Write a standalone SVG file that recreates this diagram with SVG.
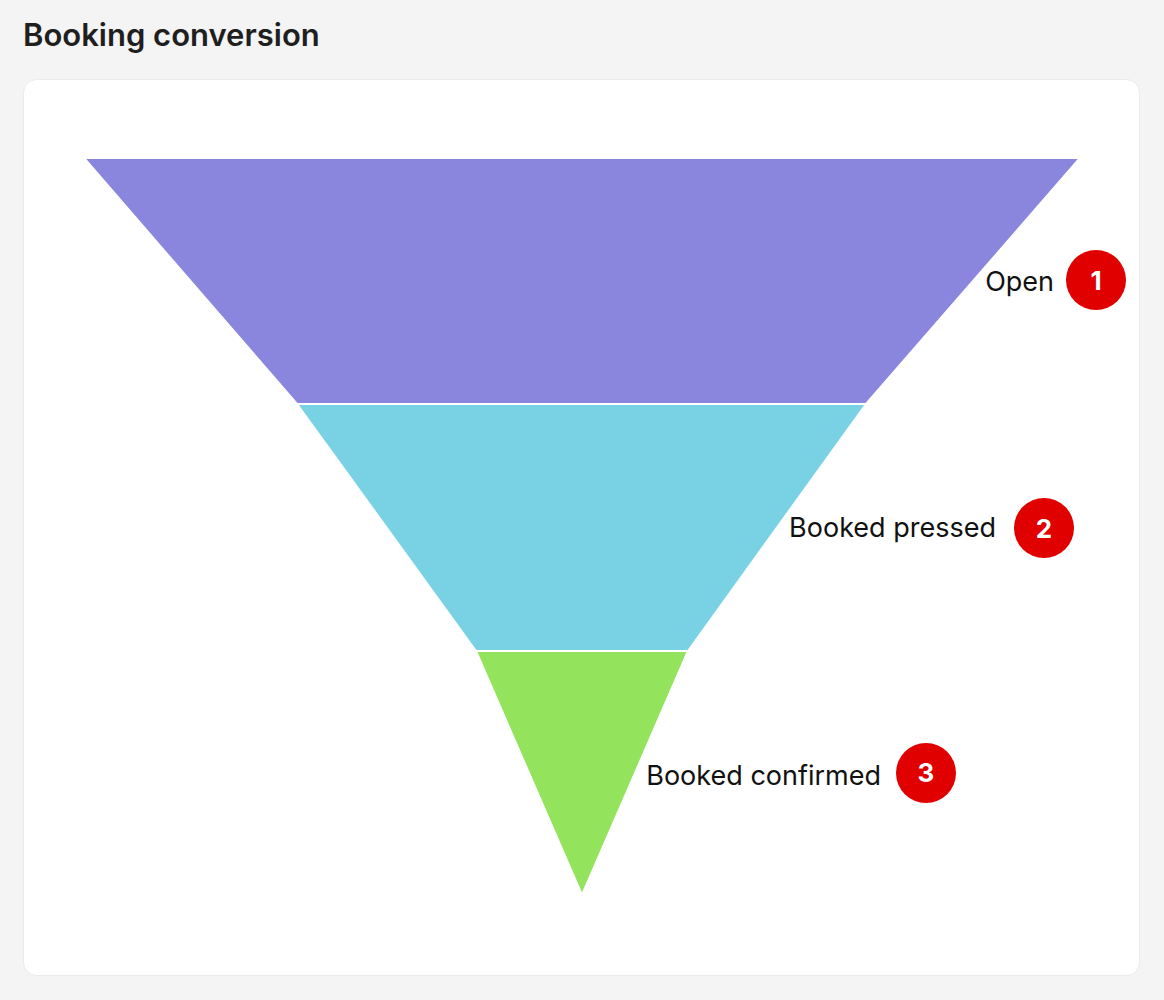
<svg xmlns="http://www.w3.org/2000/svg" width="1164" height="1000" viewBox="0 0 1164 1000">
  <style>
    .title { font-family: Inter, "Liberation Sans", Arial, sans-serif; font-size: 31px; font-weight: 600; fill: #1f1f1f; }
    .label { font-family: Inter, "Liberation Sans", Arial, sans-serif; font-size: 27px; font-weight: 400; fill: #111111; text-anchor: end; }
    .badge { fill: #e00000; }
    .num { font-family: Inter, "Liberation Sans", Arial, sans-serif; font-size: 26px; font-weight: 700; fill: #ffffff; text-anchor: middle; }
    .band { stroke: #ffffff; stroke-width: 2; stroke-linejoin: miter; }
  </style>
  <rect x="0" y="0" width="1164" height="1000" fill="#f4f4f4"/>
  <text class="title" x="23" y="46">Booking conversion</text>
  <rect x="23.5" y="79.5" width="1116" height="896" rx="13" ry="13" fill="#ffffff" stroke="#ebebeb" stroke-width="1"/>

  <g id="stage-open">
    <polygon class="band" fill="#8a86de" points="84,158 1080,158 866,404 297,404"/>
    <text class="label" x="1054" y="291">Open</text>
    <circle class="badge" cx="1096" cy="280" r="30"/>
    <text class="num" x="1096" y="290">1</text>
  </g>

  <g id="stage-booked-pressed">
    <polygon class="band" fill="#78d2e3" points="297,404 866,404 688,651 476,651"/>
    <text class="label" x="996" y="537">Booked pressed</text>
    <circle class="badge" cx="1044" cy="528" r="30"/>
    <text class="num" x="1044" y="538">2</text>
  </g>

  <g id="stage-booked-confirmed">
    <polygon class="band" fill="#94e35c" points="476,651 688,651 582,895"/>
    <text class="label" x="881" y="785">Booked confirmed</text>
    <circle class="badge" cx="926" cy="773" r="30"/>
    <text class="num" x="926" y="782">3</text>
  </g>

  <g id="connectors"></g>
</svg>
